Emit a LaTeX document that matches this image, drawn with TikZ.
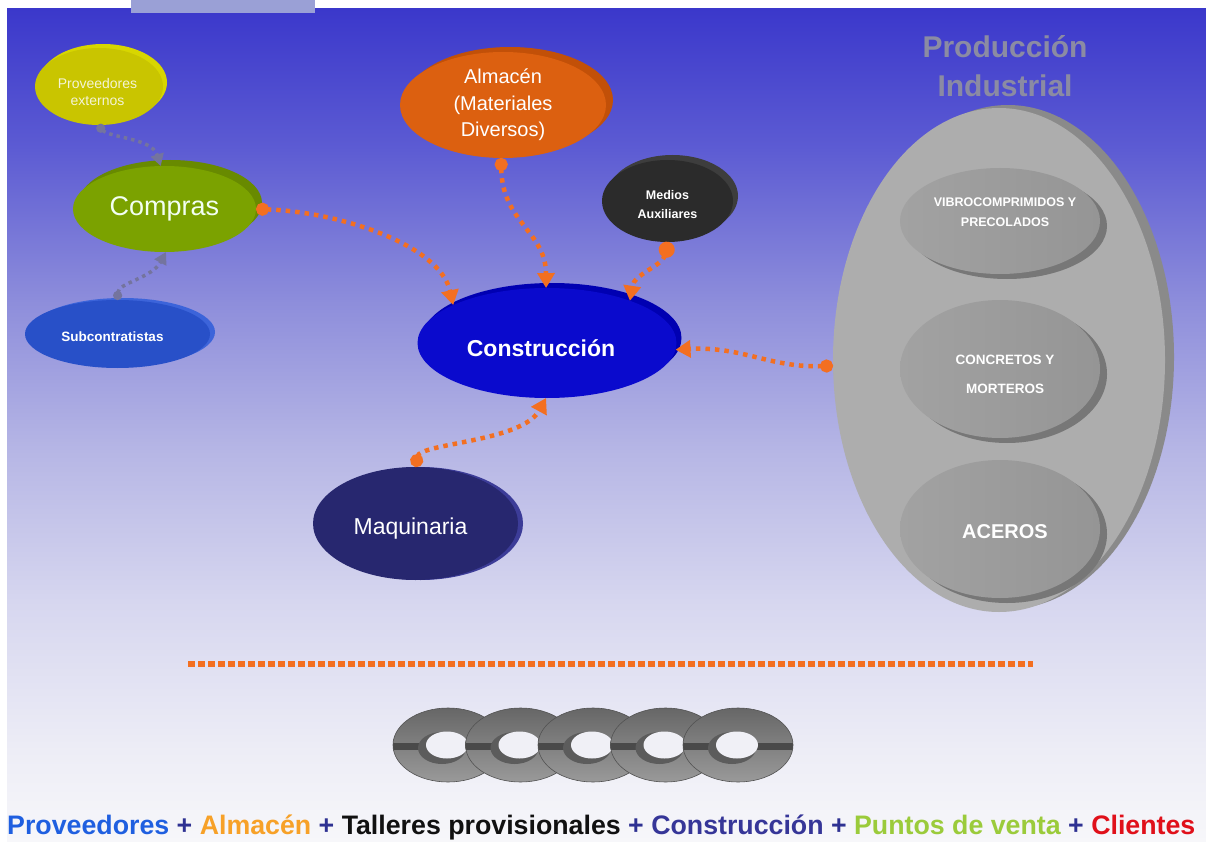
\documentclass[tikz,border=0pt]{standalone}
\usepackage{fontspec}
\usepackage{graphicx}
\setmainfont{Liberation Sans}
\usetikzlibrary{shapes.geometric,arrows.meta,shadows}

% background ramp
\definecolor{bgA}{HTML}{3B38CB}
\definecolor{bgB}{HTML}{5D5CD3}
\definecolor{bgC}{HTML}{8D8DDB}
\definecolor{bgD}{HTML}{B6B6E5}
\definecolor{bgE}{HTML}{D6D6EF}
\definecolor{bgF}{HTML}{EDEDF6}
\definecolor{bgG}{HTML}{F7F7FA}
\definecolor{topbar}{HTML}{9AA0D6}
% node faces and rims
\definecolor{provF}{HTML}{C9C500}
\definecolor{provR}{HTML}{D8D600}
\definecolor{provT}{HTML}{F4F4D6}
\definecolor{compF}{HTML}{7BA200}
\definecolor{compR}{HTML}{688A00}
\definecolor{subcF}{HTML}{2850C8}
\definecolor{subcR}{HTML}{3C64DA}
\definecolor{almF}{HTML}{DC6010}
\definecolor{almR}{HTML}{C25008}
\definecolor{medF}{HTML}{2B2B2B}
\definecolor{medR}{HTML}{3D3D3D}
\definecolor{conF}{HTML}{0A0ACD}
\definecolor{conR}{HTML}{0000B2}
\definecolor{maqF}{HTML}{27276F}
\definecolor{maqR}{HTML}{3C3C98}
\definecolor{prodF}{HTML}{ADADAD}
\definecolor{prodR}{HTML}{8A8A8A}
\definecolor{inL}{HTML}{A2A2A2}
\definecolor{inD}{HTML}{959595}
\definecolor{inS}{HTML}{777777}
\definecolor{titleGray}{HTML}{8B8BA3}
% connectors
\definecolor{linkOr}{HTML}{F36F21}
\definecolor{linkGr}{HTML}{74749E}
% chain
\definecolor{chTop}{HTML}{666666}
\definecolor{chMid}{HTML}{A9A9A9}
\definecolor{chBot}{HTML}{9A9A9A}
\definecolor{chBand}{HTML}{4A4A4A}
\definecolor{chHole}{HTML}{F0F0F6}
% legend words
\definecolor{lgBlue}{HTML}{1F5FE0}
\definecolor{lgPlus}{HTML}{2E3192}
\definecolor{lgOrange}{HTML}{F7A128}
\definecolor{lgBlack}{HTML}{111111}
\definecolor{lgCons}{HTML}{363698}
\definecolor{lgGreen}{HTML}{9BCB3B}
\definecolor{lgRed}{HTML}{E0101A}

\begin{document}
\begin{tikzpicture}[x=1pt,y=-1pt,
  blob/.style={ellipse,inner sep=0pt,outer sep=0pt,draw=none},
  txt/.style={text=white,align=center,inner sep=0pt},
  oconn/.style={draw=linkOr,line width=4.5pt,dash pattern=on 4.5pt off 5pt,
    {Circle[length=13pt,width=13pt]}-{Triangle[length=15pt,width=17pt]}},
  gconn/.style={draw=linkGr,line width=3.5pt,dash pattern=on 3.5pt off 4pt,
    {Circle[length=9pt,width=9pt]}-{Triangle[length=12pt,width=13pt]}}
]
\useasboundingbox (0,0) rectangle (1206,842);

% page and graded backdrop
\fill[white] (0,0) rectangle (1206,842);
\shade[top color=bgA,bottom color=bgB] (7,9) rectangle (1206,151);
\shade[top color=bgB,bottom color=bgC] (7,150) rectangle (1206,301);
\shade[top color=bgC,bottom color=bgD] (7,300) rectangle (1206,451);
\shade[top color=bgD,bottom color=bgE] (7,450) rectangle (1206,601);
\shade[top color=bgE,bottom color=bgF] (7,600) rectangle (1206,751);
\shade[top color=bgF,bottom color=bgG] (7,750) rectangle (1206,842);
\fill[topbar] (131,0) rectangle (315,13);

% supply side
\node[blob,minimum width=128pt,minimum height=77pt,fill=provF,
  copy shadow={shadow xshift=4pt,shadow yshift=4pt,fill=provR,draw=none},
  label={[txt,text=provT,font=\fontsize{14}{17}\selectfont,xshift=-1.5pt,yshift=-5pt]center:Proveedores\\externos}]
  (prov) at (99,86.5) {};
\node[blob,minimum width=183pt,minimum height=86pt,fill=compF,
  copy shadow={shadow xshift=6pt,shadow yshift=6pt,fill=compR,draw=none},
  label={[txt,text=white!95!green,font=\fontsize{27}{30}\selectfont]center:Compras}]
  (compras) at (164.5,209) {};
\node[blob,minimum width=185pt,minimum height=68pt,fill=subcF,
  copy shadow={shadow xshift=5pt,shadow yshift=2pt,fill=subcR,draw=none},
  label={[txt,font=\bfseries\fontsize{13.5}{16}\selectfont,xshift=-5pt,yshift=-3pt]center:Subcontratistas}]
  (subc) at (117.5,334) {};

% site resources
\node[blob,minimum width=206pt,minimum height=106pt,fill=almF,
  copy shadow={shadow xshift=7pt,shadow yshift=5pt,fill=almR,draw=none},
  label={[txt,font=\fontsize{20}{26.5}\selectfont]center:Almacén\\(Materiales\\Diversos)}]
  (almacen) at (503,105) {};
\node[blob,minimum width=131pt,minimum height=82pt,fill=medF,
  copy shadow={shadow xshift=5pt,shadow yshift=5pt,fill=medR,draw=none},
  label={[txt,font=\bfseries\fontsize{12.5}{19}\selectfont,yshift=-4pt]center:Medios\\Auxiliares}]
  (medios) at (667.5,201) {};
\node[blob,minimum width=259pt,minimum height=110pt,fill=conF,
  copy shadow={shadow xshift=5pt,shadow yshift=5pt,fill=conR,draw=none},
  label={[txt,font=\bfseries\fontsize{23}{26}\selectfont,xshift=-6pt,yshift=-5pt]center:Construcción}]
  (constr) at (547,343) {};
\node[blob,minimum width=205pt,minimum height=113pt,fill=maqF,
  copy shadow={shadow xshift=5pt,shadow yshift=0pt,fill=maqR,draw=none},
  label={[txt,font=\fontsize{23}{26}\selectfont,xshift=-5pt,yshift=-5pt]center:Maquinaria}]
  (maq) at (415.5,523.5) {};

% industrial production block
\node[text=titleGray,align=center,font=\bfseries\fontsize{30}{39}\selectfont,inner sep=0pt]
  (ptitle) at (1005,66) {Producción\\Industrial};
\node[blob,minimum width=332pt,minimum height=504pt,fill=prodF,
  copy shadow={shadow xshift=9pt,shadow yshift=3pt,fill=prodR,draw=none}]
  (prod) at (999,360) {};
\node[blob,minimum width=200pt,minimum height=106pt,left color=inL,right color=inD,
  copy shadow={shadow xshift=7pt,shadow yshift=-5pt,fill=inS,draw=none},
  label={[txt,font=\bfseries\fontsize{12.5}{19.5}\selectfont,xshift=5pt,yshift=9pt]center:VIBROCOMPRIMIDOS Y\\PRECOLADOS}]
  (vibro) at (1000,221) {};
\node[blob,minimum width=200pt,minimum height=138pt,left color=inL,right color=inD,
  copy shadow={shadow xshift=7pt,shadow yshift=-5pt,fill=inS,draw=none},
  label={[txt,font=\bfseries\fontsize{13.5}{29}\selectfont,xshift=5pt,yshift=-5pt]center:CONCRETOS Y\\MORTEROS}]
  (concr) at (1000,369) {};
\node[blob,minimum width=200pt,minimum height=138pt,left color=inL,right color=inD,
  copy shadow={shadow xshift=7pt,shadow yshift=-5pt,fill=inS,draw=none},
  label={[txt,font=\bfseries\fontsize{20}{24}\selectfont,xshift=5pt,yshift=-3pt]center:ACEROS}]
  (aceros) at (1000,529) {};

% flows
\draw[gconn] (prov.268) .. controls (110,138) and (152,138) .. (compras.95);
\draw[gconn] (subc.90) .. controls (118,283) and (152,278) .. (compras.-88);
\draw[oconn] (compras.east) .. controls (340,212) and (440,245) .. (constr.158);
\draw[oconn] (almacen.268) .. controls (502,222) and (546,232) .. (constr.91);
\draw[oconn,{Circle[length=16pt,width=16pt]}-{Triangle[length=15pt,width=17pt]}]
  (medios.272) .. controls (662,266) and (634,274) .. (constr.27);
\draw[oconn] (prod.182) .. controls (770,368) and (742,346) .. (constr.-3);
\draw[oconn] (maq.90) .. controls (420,443) and (522,442) .. (constr.-91);

% separator
\coordinate (sepL) at (188,664);
\coordinate (sepR) at (1033,664);
\draw[linkOr,line width=6pt,dash pattern=on 7pt off 3pt] (sepL) -- (sepR);

% chain of five links
\foreach \i in {0,...,4}{
  \pgfmathsetmacro{\cx}{448+72.5*\i}
  \begin{scope}
    \clip (\cx,745) ellipse [x radius=55,y radius=37];
    \shade[top color=chTop,middle color=chMid,bottom color=chBot]
      ({\cx-56},707) rectangle ({\cx+56},783);
    \fill[chBand] ({\cx-56},743) rectangle ({\cx+56},750);
    \fill[chBand!90!white] ({\cx-6},748) ellipse [x radius=24,y radius=16];
    \fill[chHole] ({\cx-1},745) ellipse [x radius=21,y radius=13.5];
  \end{scope}
  \draw[chTop!80!black,line width=0.6pt] (\cx,745) ellipse [x radius=55,y radius=37];
}

% legend line
\node[anchor=base west,inner sep=0pt] (legend) at (7,834)
  {\resizebox{1188pt}{!}{\bfseries\fontsize{26.7}{30}\selectfont
   \textcolor{lgBlue}{Proveedores} \textcolor{lgPlus}{+}
   \textcolor{lgOrange}{Almacén} \textcolor{lgPlus}{+}
   \textcolor{lgBlack}{Talleres provisionales} \textcolor{lgPlus}{+}
   \textcolor{lgCons}{Construcción} \textcolor{lgPlus}{+}
   \textcolor{lgGreen}{Puntos de venta} \textcolor{lgPlus}{+}
   \textcolor{lgRed}{Clientes}}};
\end{tikzpicture}
\end{document}
